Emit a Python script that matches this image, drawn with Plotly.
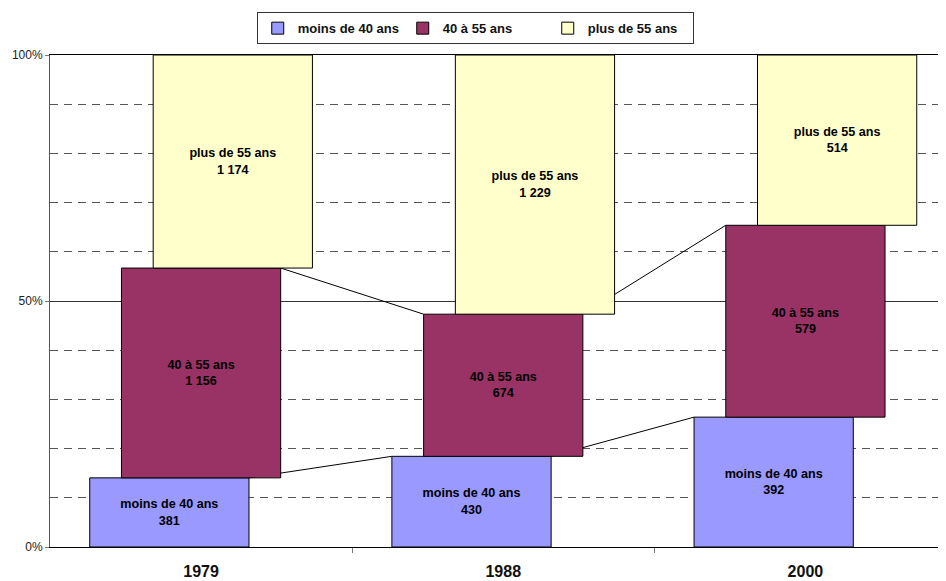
import plotly.graph_objects as go

# Répartition par âge (effectifs) - barres 100 % décalées
years = ["1979", "1988", "2000"]
groups = ["moins de 40 ans", "40 à 55 ans", "plus de 55 ans"]
moins_40 = [381, 430, 392]
de_40_55 = [1156, 674, 579]
plus_55 = [1174, 1229, 514]
colors = ["#9999FF", "#993366", "#FFFFCC"]

series = [moins_40, de_40_55, plus_55]
totals = [sum(v) for v in zip(*series)]
pct = [[v / t * 100 for v, t in zip(s, totals)] for s in series]

FONT = "Liberation Sans, Arial, sans-serif"
bar_w = 0.527      # width of one bar in category units
shift = 0.105      # horizontal stagger between the series


def fmt(n):
    return f"{n:,}".replace(",", " ")


fig = go.Figure()

# series lines (below the bars -> base axes)
lx, ly = [], []
base = [0, 0, 0]
for k in range(2):
    tops = [b + p for b, p in zip(base, pct[k])]
    for i in range(len(years) - 1):
        c0 = i + 0.5 + (k - 1) * shift
        c1 = i + 1.5 + (k - 1) * shift
        lx += [c0 + bar_w / 2, c1 - bar_w / 2, None]
        ly += [tops[i], tops[i + 1], None]
    base = tops
fig.add_trace(go.Scatter(x=lx, y=ly, mode="lines", line=dict(color="black", width=1),
                         showlegend=False, hoverinfo="skip", xaxis="x", yaxis="y"))

# stacked, staggered bars (overlay axes, drawn above the lines)
base = [0, 0, 0]
for k, name in enumerate(groups):
    xs = [i + 0.5 + (k - 1) * shift for i in range(len(years))]
    fig.add_trace(go.Bar(
        x=xs, y=pct[k], base=base, width=bar_w, name=name,
        marker=dict(color=colors[k], line=dict(color="black", width=1)),
        text=[f"{name}<br>{fmt(v)}" for v in series[k]],
        textposition="inside", insidetextanchor="middle", textangle=0,
        textfont=dict(family=FONT, size=12.6, color="black", weight="bold"),
        xaxis="x2", yaxis="y2"))
    base = [b + p for b, p in zip(base, pct[k])]

# the page body adds an 8px offset, so the figure is 8px smaller
xrange = [0, 2.962]
fig.update_layout(
    width=938, height=573,
    margin=dict(l=42, r=1, t=47, b=34, autoexpand=False),
    paper_bgcolor="white", plot_bgcolor="white",
    font=dict(family=FONT, color="#222"),
    barmode="overlay",
    showlegend=True,
    legend=dict(orientation="h", x=0.231, xanchor="left", y=1.087, yanchor="top",
                bordercolor="#333", borderwidth=1, bgcolor="white",
                entrywidth=100, entrywidthmode="pixels",
                font=dict(family=FONT, size=13, color="#111", weight="bold"),
                traceorder="normal"),
    xaxis=dict(range=xrange, tickvals=[0.5, 1.5, 2.5], ticktext=years, ticks="",
               tickfont=dict(family=FONT, size=16, color="#111", weight="bold"),
               ticklabelstandoff=10,
               showline=True, linecolor="black", linewidth=1, mirror=True,
               showgrid=False, zeroline=False,
               minor=dict(tickmode="array", tickvals=[1, 2], ticks="outside",
                          ticklen=5, tickcolor="#777", showgrid=False)),
    yaxis=dict(range=[0, 100], tickvals=[0, 50, 100], ticktext=["0%", "50%", "100%"],
               ticks="outside", ticklen=4, tickcolor="#777",
               tickfont=dict(family=FONT, size=12, color="#222"),
               showline=True, linecolor="#555", linewidth=1,
               showgrid=True, gridcolor="#333", gridwidth=1, zeroline=False,
               minor=dict(tickmode="array", tickvals=[10, 20, 30, 40, 60, 70, 80, 90],
                          showgrid=True, gridcolor="#555", griddash="8px,6px",
                          gridwidth=1, ticks="")),
    xaxis2=dict(range=xrange, overlaying="x", visible=False),
    yaxis2=dict(range=[0, 100], overlaying="y", visible=False),
)

fig.write_html("out.html")
